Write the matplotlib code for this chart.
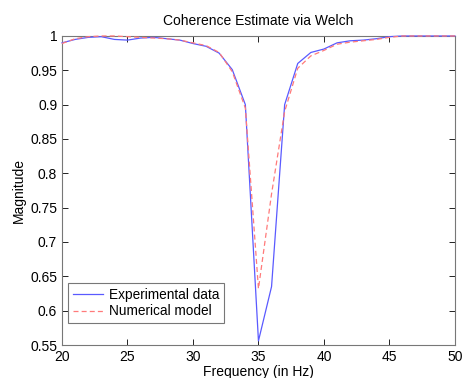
import matplotlib
matplotlib.use("Agg")
import matplotlib.pyplot as plt

plt.rcParams['font.family'] = ['Liberation Sans', 'DejaVu Sans']

freq = list(range(20, 51))
experimental = [0.990, 0.995, 0.998, 0.999, 0.995, 0.994, 0.997, 0.998, 0.996, 0.994,
                0.989, 0.985, 0.975, 0.951, 0.900, 0.556, 0.635, 0.900, 0.960, 0.976,
                0.981, 0.990, 0.993, 0.994, 0.996, 0.999, 1.000, 1.000, 1.000, 1.000, 1.000]
numerical = [0.989, 0.996, 0.999, 1.000, 1.000, 0.999, 0.998, 0.997, 0.996, 0.994,
             0.990, 0.986, 0.976, 0.948, 0.895, 0.632, 0.770, 0.890, 0.953, 0.971,
             0.979, 0.988, 0.991, 0.993, 0.995, 0.998, 1.000, 1.000, 1.000, 1.000, 1.000]

fig = plt.figure(figsize=(4.68, 3.78), dpi=100)
ax = fig.add_axes([0.1325, 0.0873, 0.8395, 0.8175])

ax.plot(freq, experimental, color='#5a5aff', lw=0.9, label='Experimental data', clip_on=False, zorder=3)
ax.plot(freq, numerical, color='#ff7a7a', lw=0.9, ls=(0, (4, 2.5)), label='Numerical model', clip_on=False, zorder=3)

ax.set_xlim(20, 50)
ax.set_ylim(0.55, 1.0)
ax.set_xticks([20, 25, 30, 35, 40, 45, 50])
ax.set_yticks([0.55, 0.6, 0.65, 0.7, 0.75, 0.8, 0.85, 0.9, 0.95, 1.0])
ax.set_yticklabels(['0.55', '0.6', '0.65', '0.7', '0.75', '0.8', '0.85', '0.9', '0.95', '1'])
ax.tick_params(direction='in', top=True, right=True, labelsize=10, colors='#000000',
               length=4, width=0.6)
for t in ax.get_xticklines() + ax.get_yticklines():
    t.set_color('#666666')
for s in ax.spines.values():
    s.set_color('#777777')
    s.set_linewidth(0.8)
    s.set_zorder(2)

ax.set_title('Coherence Estimate via Welch', fontsize=10, pad=8)
ax.set_xlabel('Frequency (in Hz)', fontsize=10, labelpad=1)
ax.set_ylabel('Magnitude', fontsize=10, labelpad=3)

leg = ax.legend(loc='lower left', fontsize=9.8, fancybox=False, framealpha=1,
                edgecolor='#777777', borderpad=0.35, handlelength=2.2,
                handletextpad=0.45, labelspacing=0.2, borderaxespad=0,
                bbox_to_anchor=(0.015, 0.071))
leg.get_frame().set_linewidth(0.8)
leg.set_zorder(5)

fig.savefig('out.png', dpi=100)
